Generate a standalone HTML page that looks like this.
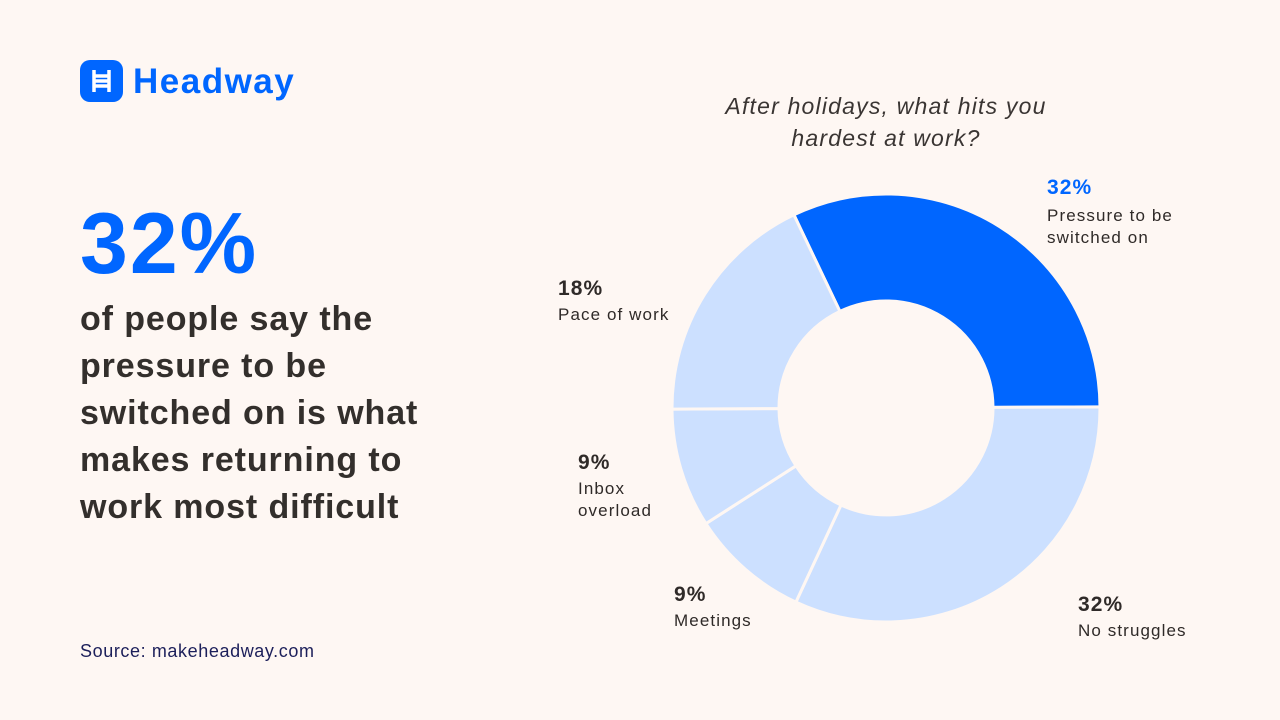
<!DOCTYPE html>
<html><head><meta charset="utf-8"><style>
body{margin:0;width:1280px;height:720px;background:#FEF7F3;font-family:"Liberation Sans",sans-serif;position:relative;overflow:hidden;color:#2f2a28}
.a{position:absolute;white-space:nowrap}
.l{letter-spacing:1.1px}
</style></head><body>
<div class="a" style="left:80px;top:60px;width:43px;height:42px;background:#0066FF;border-radius:10px"></div>
<svg class="a" style="left:80px;top:60px" width="43" height="42"><g stroke="#fff" stroke-width="3.5" fill="none"><line x1="14" y1="10" x2="14" y2="32"/><line x1="29" y1="10" x2="29" y2="32"/><line x1="14" y1="16" x2="29" y2="16"/><line x1="14" y1="21" x2="29" y2="21"/><line x1="14" y1="26" x2="29" y2="26"/></g></svg>
<div class="a" style="left:133px;top:60px;font-size:35px;font-weight:bold;color:#0066FF;line-height:44px;letter-spacing:1.5px">Headway</div>
<div class="a" style="left:80px;top:196px;font-size:86px;font-weight:bold;color:#0066FF;line-height:96px;letter-spacing:2px">32%</div>
<div class="a" style="left:80px;top:296px;font-size:34px;font-weight:bold;line-height:47px;color:#332f2c;letter-spacing:0.9px">of people say the<br>pressure to be<br>switched on is what<br>makes returning to<br>work most difficult</div>
<div class="a" style="left:80px;top:641px;font-size:18px;color:#1c1f5a;letter-spacing:0.6px">Source: makeheadway.com</div>
<div class="a" style="left:636px;top:90px;width:500px;text-align:center;font-size:23px;font-style:italic;line-height:32px;color:#3a3533;letter-spacing:1.2px">After holidays, what hits you<br>hardest at work?</div>
<svg class="a" style="left:0;top:0" width="1280" height="720">
<g stroke="#FEF7F3" stroke-width="3" stroke-linejoin="round">
<path fill="#0066FF" d="M793.9,214.8 A214,214 0 0 1 1100,406.9 L993,407.4 A107,107 0 0 0 839.9,311.4 Z"/>
<path fill="#CCE0FF" d="M1100,406.9 A214,214 0 0 1 795.9,602.1 L841,505 A107,107 0 0 0 993,407.4 Z"/>
<path fill="#CCE0FF" d="M795.9,602.1 A214,214 0 0 1 705.9,523.6 L796,465.8 A107,107 0 0 0 841,505 Z"/>
<path fill="#CCE0FF" d="M705.9,523.6 A214,214 0 0 1 672,409.1 L779,408.6 A107,107 0 0 0 796,465.8 Z"/>
<path fill="#CCE0FF" d="M672,409.1 A214,214 0 0 1 793.9,214.8 L839.9,311.4 A107,107 0 0 0 779,408.6 Z"/>
</g></svg>
<div class="a l" style="left:1047px;top:176px;font-size:21px;font-weight:bold;color:#0066FF">32%</div>
<div class="a l" style="left:1047px;top:205px;font-size:17px;line-height:22px">Pressure to be<br>switched on</div>
<div class="a l" style="left:558px;top:277px;font-size:21px;font-weight:bold">18%</div>
<div class="a l" style="left:558px;top:305px;font-size:17px">Pace of work</div>
<div class="a l" style="left:578px;top:451px;font-size:21px;font-weight:bold">9%</div>
<div class="a l" style="left:578px;top:478px;font-size:17px;line-height:22px">Inbox<br>overload</div>
<div class="a l" style="left:674px;top:583px;font-size:21px;font-weight:bold">9%</div>
<div class="a l" style="left:674px;top:611px;font-size:17px">Meetings</div>
<div class="a l" style="left:1078px;top:593px;font-size:21px;font-weight:bold">32%</div>
<div class="a l" style="left:1078px;top:621px;font-size:17px">No struggles</div>
</body></html>
